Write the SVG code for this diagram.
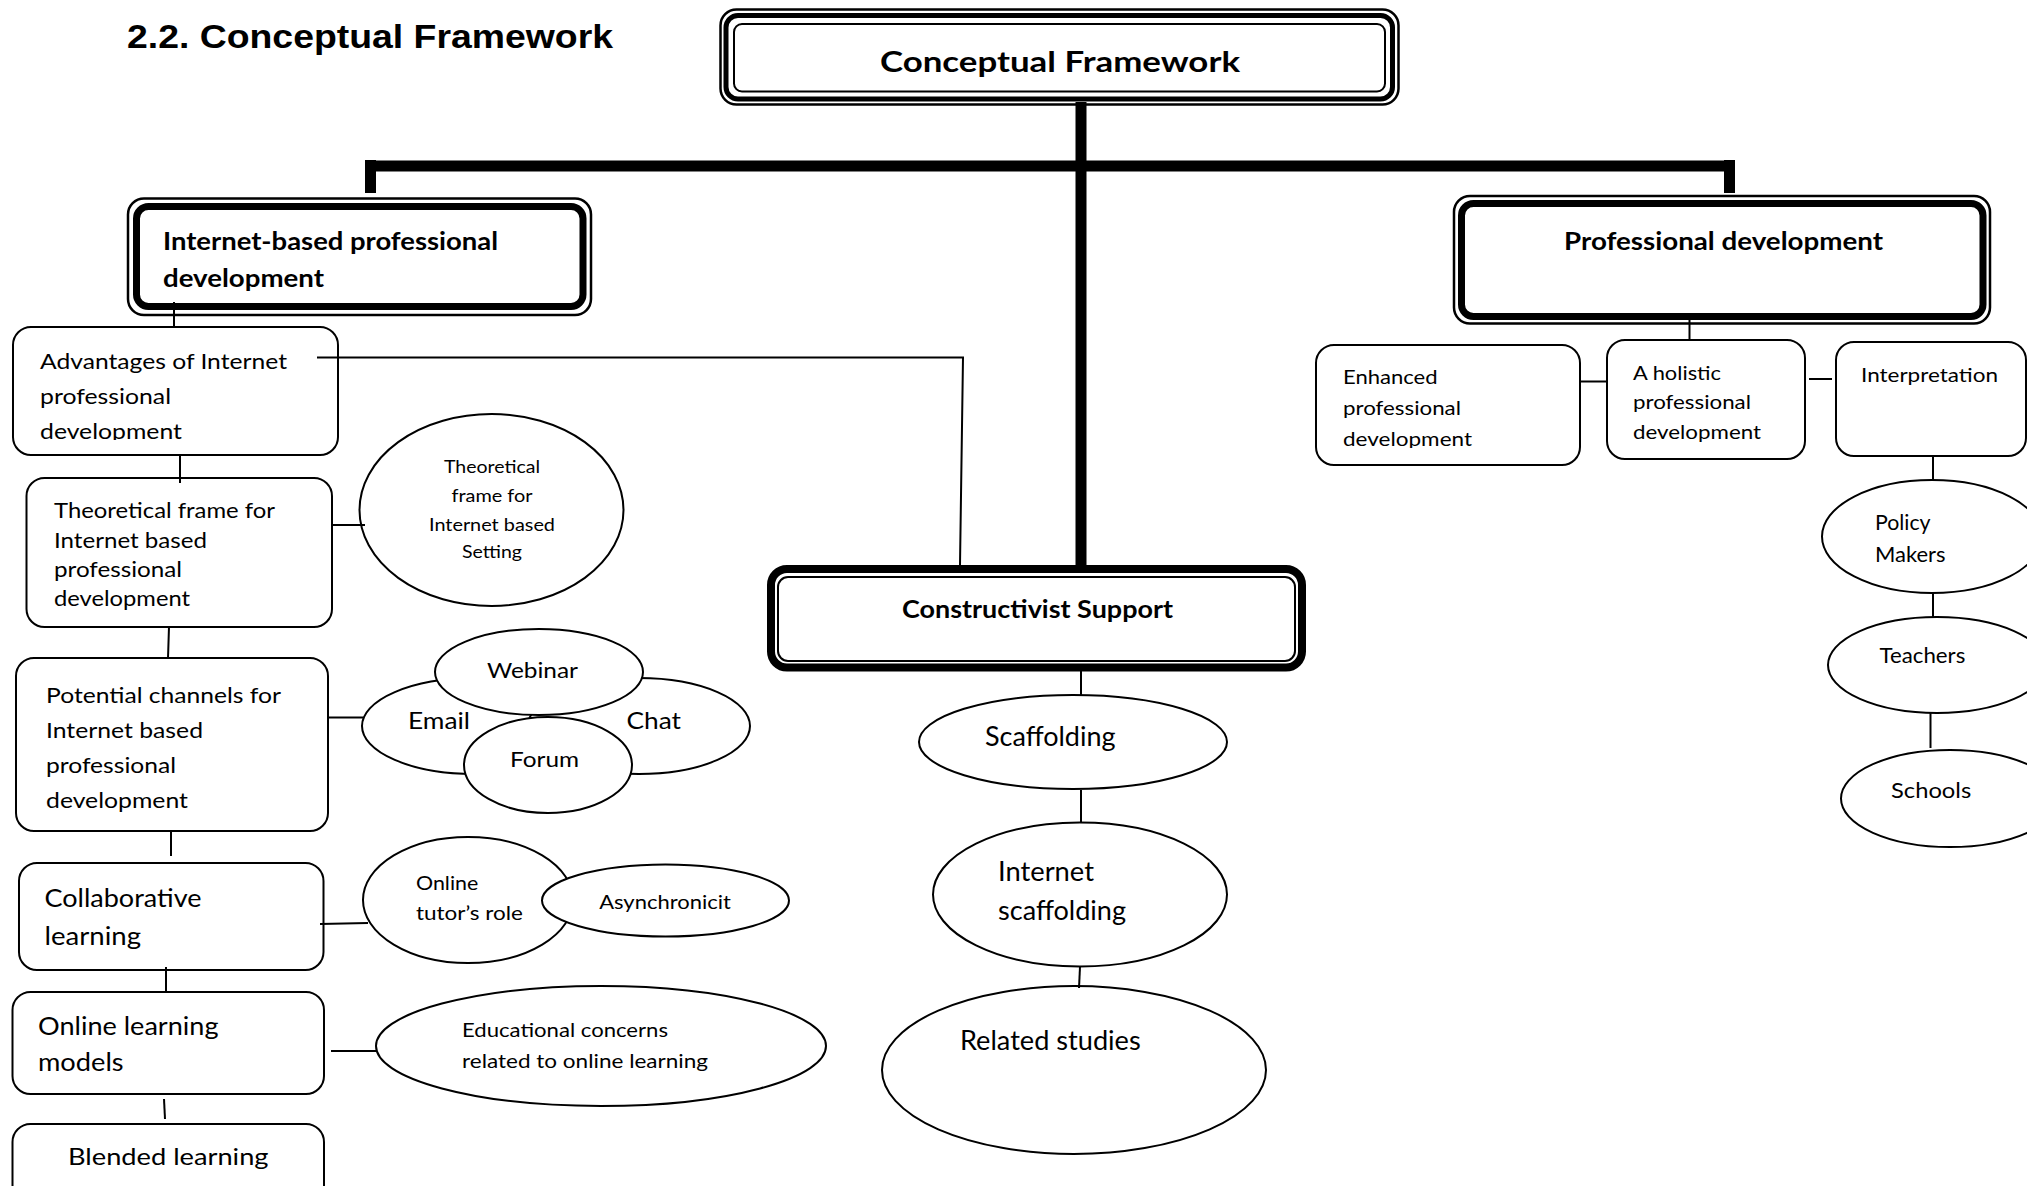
<svg xmlns="http://www.w3.org/2000/svg" width="2027" height="1186" viewBox="0 0 2027 1186">
<style>
.t{font-family:Lato,"Open Sans","Liberation Sans",sans-serif;fill:#000}
.b{font-weight:bold}
.box{fill:#fff;stroke:#000;stroke-width:2}
.el{fill:#fff;stroke:#000;stroke-width:2}
.ln{fill:none;stroke:#000;stroke-width:2}
.thk{fill:none;stroke:#000;stroke-width:11}
</style>
<defs>
<clipPath id="clipAdv"><rect x="0" y="320" width="400" height="120"/></clipPath>
<clipPath id="clipEnh"><rect x="1300" y="330" width="300" height="118"/></clipPath>
</defs>
<rect width="2027" height="1186" fill="#fff"/>
<text x="127" y="48" font-family="'Liberation Sans',Arial,sans-serif" font-weight="bold" font-size="33" textLength="486" lengthAdjust="spacingAndGlyphs">2.2. Conceptual Framework</text>

<g id="n-top">
<rect x="720.5" y="9.5" width="678" height="95" rx="16" fill="#fff" stroke="#000" stroke-width="2.5"/>
<rect x="726" y="15.5" width="666.5" height="83.5" rx="12" fill="none" stroke="#000" stroke-width="5"/>
<rect x="734" y="24" width="651" height="67.5" rx="8" fill="none" stroke="#000" stroke-width="2"/>
<text class="t b" x="880" y="72" font-size="29" textLength="360" lengthAdjust="spacingAndGlyphs">Conceptual Framework</text>
</g>

<g id="n-ibpd">
<rect x="128" y="198.5" width="463" height="116.5" rx="16" fill="#fff" stroke="#000" stroke-width="2.5"/>
<rect x="136.5" y="206.5" width="446.5" height="100" rx="12" fill="none" stroke="#000" stroke-width="7"/>
<text class="t b" x="163" y="250" font-size="25" textLength="335" lengthAdjust="spacingAndGlyphs">Internet-based professional</text>
<text class="t b" x="163" y="287" font-size="25" textLength="161" lengthAdjust="spacingAndGlyphs">development</text>
</g>

<g id="n-pd">
<rect x="1454" y="196" width="536" height="127.5" rx="16" fill="#fff" stroke="#000" stroke-width="2.5"/>
<rect x="1461.5" y="203.5" width="521.5" height="113" rx="12" fill="none" stroke="#000" stroke-width="7"/>
<text class="t b" x="1564" y="250" font-size="25" textLength="319" lengthAdjust="spacingAndGlyphs">Professional development</text>
</g>

<g id="n-cs">
<rect x="771" y="569" width="531" height="98.5" rx="16" fill="#fff" stroke="#000" stroke-width="8"/>
<rect x="778" y="577" width="517" height="84" rx="10" fill="none" stroke="#000" stroke-width="2"/>
<text class="t b" x="902" y="618" font-size="25" textLength="271" lengthAdjust="spacingAndGlyphs">Constructivist Support</text>
</g>

<g id="n-adv">
<rect class="box" x="13" y="327" width="325" height="128" rx="18"/>
<g clip-path="url(#clipAdv)">
<text class="t" x="40" y="369" font-size="22" textLength="247" lengthAdjust="spacingAndGlyphs">Advantages of Internet</text>
<text class="t" x="40" y="404" font-size="22" textLength="131" lengthAdjust="spacingAndGlyphs">professional</text>
<text class="t" x="40" y="439" font-size="22" textLength="142" lengthAdjust="spacingAndGlyphs">development</text>
</g>
</g>

<g id="n-theo">
<rect class="box" x="26.5" y="478" width="305.5" height="149" rx="18"/>
<text class="t" x="54" y="518" font-size="22" textLength="221" lengthAdjust="spacingAndGlyphs">Theoretical frame for</text>
<text class="t" x="54" y="548" font-size="22" textLength="153" lengthAdjust="spacingAndGlyphs">Internet based</text>
<text class="t" x="54" y="577" font-size="22" textLength="128" lengthAdjust="spacingAndGlyphs">professional</text>
<text class="t" x="54" y="606" font-size="22" textLength="136" lengthAdjust="spacingAndGlyphs">development</text>
</g>

<g id="n-theo-setting">
<ellipse class="el" cx="491.5" cy="510" rx="132" ry="96"/>
<text class="t" x="492" y="473" font-size="18" text-anchor="middle" textLength="96" lengthAdjust="spacingAndGlyphs">Theoretical</text>
<text class="t" x="492" y="502" font-size="18" text-anchor="middle" textLength="81" lengthAdjust="spacingAndGlyphs">frame for</text>
<text class="t" x="492" y="531" font-size="18" text-anchor="middle" textLength="126" lengthAdjust="spacingAndGlyphs">Internet based</text>
<text class="t" x="492" y="558" font-size="18" text-anchor="middle" textLength="60" lengthAdjust="spacingAndGlyphs">Setting</text>
</g>

<g id="n-pot">
<rect class="box" x="16" y="658" width="312" height="173" rx="18"/>
<text class="t" x="46" y="703" font-size="22" textLength="235" lengthAdjust="spacingAndGlyphs">Potential channels for</text>
<text class="t" x="46" y="738" font-size="22" textLength="157" lengthAdjust="spacingAndGlyphs">Internet based</text>
<text class="t" x="46" y="773" font-size="22" textLength="130" lengthAdjust="spacingAndGlyphs">professional</text>
<text class="t" x="46" y="808" font-size="22" textLength="142" lengthAdjust="spacingAndGlyphs">development</text>
</g>

<g id="n-email">
<ellipse class="el" cx="474" cy="726" rx="112" ry="48"/>
<text class="t" x="408" y="729" font-size="23" textLength="62" lengthAdjust="spacingAndGlyphs">Email</text>
</g>
<g id="n-chat">
<ellipse class="el" cx="639" cy="726" rx="111" ry="48"/>
<text class="t" x="626.5" y="729" font-size="23" textLength="54.5" lengthAdjust="spacingAndGlyphs">Chat</text>
</g>
<g id="n-webinar">
<ellipse class="el" cx="539" cy="672" rx="104" ry="43"/>
<text class="t" x="487" y="678" font-size="22" textLength="91" lengthAdjust="spacingAndGlyphs">Webinar</text>
</g>
<g id="n-forum">
<ellipse class="el" cx="548" cy="765" rx="84" ry="48"/>
<text class="t" x="510" y="767" font-size="22" textLength="69" lengthAdjust="spacingAndGlyphs">Forum</text>
</g>

<g id="n-collab">
<rect class="box" x="19" y="863" width="304.5" height="107" rx="18"/>
<text class="t" x="44.5" y="907" font-size="25" textLength="157" lengthAdjust="spacingAndGlyphs">Collaborative</text>
<text class="t" x="44.5" y="945" font-size="25" textLength="96.5" lengthAdjust="spacingAndGlyphs">learning</text>
</g>

<g id="n-tutor">
<ellipse class="el" cx="468" cy="900" rx="105" ry="63"/>
<text class="t" x="416" y="890" font-size="19" textLength="62.3" lengthAdjust="spacingAndGlyphs">Online</text>
<text class="t" x="416" y="920" font-size="19" textLength="107" lengthAdjust="spacingAndGlyphs">tutor’s role</text>
</g>
<g id="n-async">
<ellipse class="el" cx="665.5" cy="900.5" rx="123.5" ry="36"/>
<text class="t" x="665" y="909" font-size="20" text-anchor="middle" textLength="131.7" lengthAdjust="spacingAndGlyphs">Asynchronicit</text>
</g>

<g id="n-olm">
<rect class="box" x="12.5" y="992" width="311.5" height="102" rx="18"/>
<text class="t" x="38" y="1035" font-size="25" textLength="180.5" lengthAdjust="spacingAndGlyphs">Online learning</text>
<text class="t" x="38" y="1071" font-size="25" textLength="85.6" lengthAdjust="spacingAndGlyphs">models</text>
</g>

<g id="n-edu">
<ellipse class="el" cx="601" cy="1046" rx="225" ry="60"/>
<text class="t" x="462" y="1037" font-size="19" textLength="206" lengthAdjust="spacingAndGlyphs">Educational concerns</text>
<text class="t" x="462" y="1068" font-size="19" textLength="246" lengthAdjust="spacingAndGlyphs">related to online learning</text>
</g>

<g id="n-blended">
<rect class="box" x="12.5" y="1124" width="311.5" height="80" rx="18"/>
<text class="t" x="68" y="1165" font-size="24" textLength="200.5" lengthAdjust="spacingAndGlyphs">Blended learning</text>
</g>

<g id="n-scaff">
<ellipse class="el" cx="1073" cy="742" rx="154" ry="47"/>
<text class="t" x="985" y="746" font-size="26" textLength="130.5" lengthAdjust="spacingAndGlyphs">Scaffolding</text>
</g>
<g id="n-iscaff">
<ellipse class="el" cx="1080" cy="894.5" rx="147" ry="72"/>
<text class="t" x="998" y="881" font-size="26" textLength="96" lengthAdjust="spacingAndGlyphs">Internet</text>
<text class="t" x="998" y="920" font-size="26" textLength="128" lengthAdjust="spacingAndGlyphs">scaffolding</text>
</g>
<g id="n-related">
<ellipse class="el" cx="1074" cy="1070" rx="192" ry="84"/>
<text class="t" x="960" y="1050" font-size="26" textLength="180.7" lengthAdjust="spacingAndGlyphs">Related studies</text>
</g>

<g id="n-enh">
<rect class="box" x="1316" y="345" width="264" height="120" rx="18"/>
<g clip-path="url(#clipEnh)">
<text class="t" x="1343" y="384" font-size="20" textLength="94.6" lengthAdjust="spacingAndGlyphs">Enhanced</text>
<text class="t" x="1343" y="415" font-size="20" textLength="118" lengthAdjust="spacingAndGlyphs">professional</text>
<text class="t" x="1343" y="446" font-size="20" textLength="129" lengthAdjust="spacingAndGlyphs">development</text>
</g>
</g>
<g id="n-hol">
<rect class="box" x="1607" y="340" width="198" height="119" rx="18"/>
<text class="t" x="1633" y="380" font-size="20" textLength="88" lengthAdjust="spacingAndGlyphs">A holistic</text>
<text class="t" x="1633" y="409" font-size="20" textLength="118" lengthAdjust="spacingAndGlyphs">professional</text>
<text class="t" x="1633" y="439" font-size="20" textLength="128" lengthAdjust="spacingAndGlyphs">development</text>
</g>
<g id="n-int">
<rect class="box" x="1836" y="342" width="190" height="114" rx="18"/>
<text class="t" x="1861" y="382" font-size="20" textLength="137" lengthAdjust="spacingAndGlyphs">Interpretation</text>
</g>
<g id="n-policy">
<ellipse class="el" cx="1932" cy="536.5" rx="110" ry="56.5"/>
<text class="t" x="1875" y="530" font-size="21" textLength="55.6" lengthAdjust="spacingAndGlyphs">Policy</text>
<text class="t" x="1875" y="562" font-size="21" textLength="70.5" lengthAdjust="spacingAndGlyphs">Makers</text>
</g>
<g id="n-teachers">
<ellipse class="el" cx="1937" cy="665" rx="109" ry="48"/>
<text class="t" x="1879.5" y="663" font-size="21" textLength="85.8" lengthAdjust="spacingAndGlyphs">Teachers</text>
</g>
<g id="n-schools">
<ellipse class="el" cx="1950" cy="798.5" rx="109" ry="48.5"/>
<text class="t" x="1891" y="797.5" font-size="22" textLength="80.2" lengthAdjust="spacingAndGlyphs">Schools</text>
</g>

<g id="connectors">
<path class="thk" d="M1081 102 V569"/>
<path class="thk" d="M365 166 H1735" stroke-width="12"/>
<path class="thk" d="M370.5 160 V193"/>
<path class="thk" d="M1729.5 160 V193"/>
<path class="ln" d="M174 302 V327"/>
<path class="ln" d="M317 357.5 H963 L960 565"/>
<path class="ln" d="M180 456 V483"/>
<path class="ln" d="M332 525 H365"/>
<path class="ln" d="M169 627 L168 658"/>
<path class="ln" d="M328 717.5 H363"/>
<path class="ln" d="M171 831 V856"/>
<path class="ln" d="M320 924 L368 923"/>
<path class="ln" d="M166 967 V992"/>
<path class="ln" d="M331 1051 H377"/>
<path class="ln" d="M164 1099 L165 1119"/>
<path class="ln" d="M1081 664 V695"/>
<path class="ln" d="M1081 790 V823"/>
<path class="ln" d="M1080 967 L1079 988"/>
<path class="ln" d="M1689.5 318 V340"/>
<path class="ln" d="M1580 381.5 H1606"/>
<path class="ln" d="M1809 379 H1832"/>
<path class="ln" d="M1933 456 V480"/>
<path class="ln" d="M1933 593 V617"/>
<path class="ln" d="M1930.5 713 V748"/>
</g>
</svg>
